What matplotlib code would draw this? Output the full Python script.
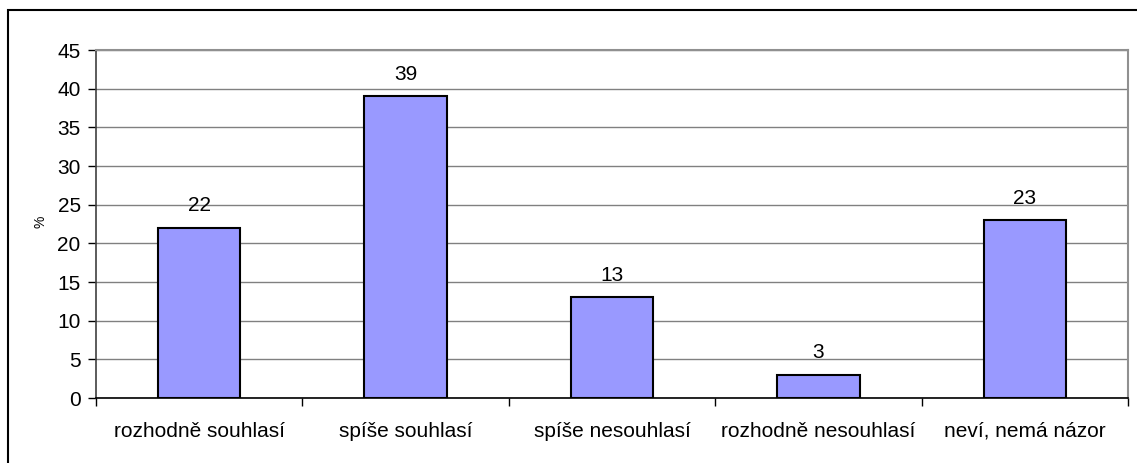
import matplotlib
matplotlib.use("Agg")
import matplotlib.pyplot as plt
from matplotlib.patches import Rectangle

categories = ["rozhodně souhlasí", "spíše souhlasí", "spíše nesouhlasí", "rozhodně nesouhlasí", "neví, nemá názor"]
values = [22, 39, 13, 3, 23]
yticks = [0, 5, 10, 15, 20, 25, 30, 35, 40, 45]

plt.rcParams['font.family'] = ['Liberation Sans', 'DejaVu Sans']

W, H = 1137, 463
fig = plt.figure(figsize=(W/100, H/100), dpi=100)
ax = fig.add_axes([96/W, 1-398/H, (1128-96)/W, (398-50)/H])

x = list(range(len(categories)))
ax.bar(x, values, width=0.4, color="#9999FF", edgecolor="black", linewidth=1.5, zorder=3)
for xi, v in zip(x, values):
    ax.annotate(str(v), (xi, v), xytext=(0, 9), textcoords="offset points",
                ha="center", va="bottom", fontsize=15, zorder=4)

ax.set_xlim(-0.5, len(categories)-0.5)
ax.set_ylim(0, 45)
ax.set_yticks(yticks)
ax.set_yticklabels([str(t) for t in yticks], fontsize=15)
ax.yaxis.grid(True, color="#808080", linewidth=1.0, zorder=0)
ax.set_axisbelow(True)

ax.set_xticks(x)
ax.set_xticklabels(categories, fontsize=15)
ax.tick_params(axis="x", length=0, pad=17)
# category boundary ticks
ax.set_xticks([i - 0.5 for i in range(len(categories)+1)], minor=True)
ax.tick_params(axis="x", which="minor", length=6, width=1, color="black", direction="out")
ax.tick_params(axis="y", length=6, width=1, direction="out", pad=5)

for s in ["top", "right"]:
    ax.spines[s].set_color("#909090")
    ax.spines[s].set_linewidth(1.5)
ax.spines["left"].set_color("#404040")
ax.spines["bottom"].set_color("black")
ax.spines["left"].set_linewidth(1.2)
ax.spines["bottom"].set_linewidth(1.2)

fig.text(40/W, 1-222/H, "%", rotation=90, fontsize=10, ha="center", va="center")

fig.patches.append(Rectangle((8/W, -0.1), 1.2, 1 - 10.5/H + 0.1, transform=fig.transFigure,
                             fill=False, edgecolor="black", linewidth=1.5))

fig.savefig("out.png", dpi=100)
